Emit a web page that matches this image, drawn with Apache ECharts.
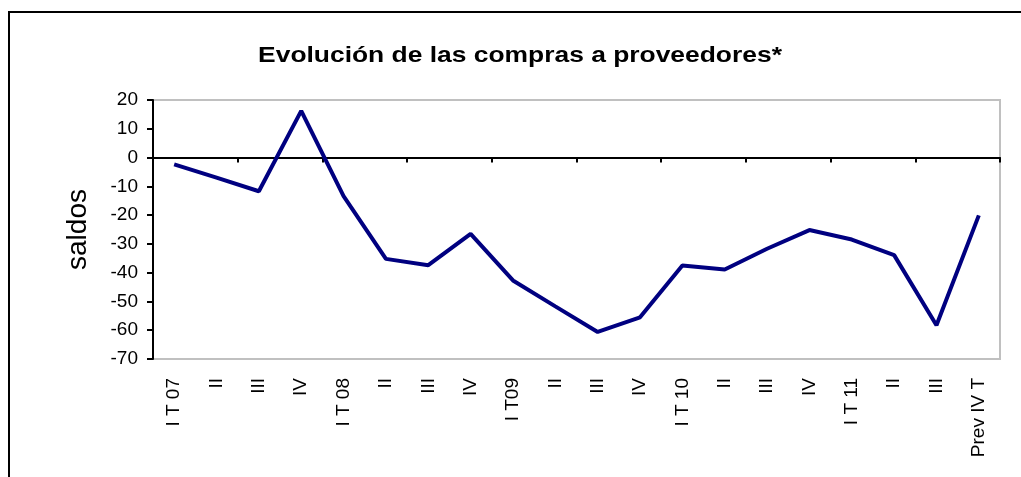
<!DOCTYPE html>
<html>
<head>
<meta charset="utf-8">
<script src="https://cdn.jsdelivr.net/npm/echarts@6/dist/echarts.min.js"></script>
<style>html,body{margin:0;padding:0;background:#fff;}#c{width:1021px;height:477px;}</style>
</head>
<body>
<div id="c"></div>
<script>
var categories = ["I T 07","II","III","IV","I T 08","II","III","IV","I T09","II","III","IV","I T 10","II","III","IV","I T 11","II","III","Prev IV T"];
var saldos = [-2.4,-7,-11.7,16.2,-13.4,-35.2,-37.4,-26.5,-42.7,-51.7,-60.6,-55.5,-37.5,-38.9,-31.7,-25.2,-28.5,-33.9,-58.3,-20.1];
var yTicks = {min:-70, max:20, interval:10};
var titleText = "Evolución de las compras a proveedores*";
var yName = "saldos";

var chart = echarts.init(document.getElementById('c'), null, {renderer:'canvas'});
var font = 'Arial, "Liberation Sans", sans-serif';
chart.setOption({
  animation:false,
  backgroundColor:'#fff',
  graphic:[
    {type:'rect',shape:{x:9,y:12,width:1100,height:600},
      style:{fill:'none',stroke:'#000',lineWidth:2},z:-1},
    {type:'text',x:520,y:56,scaleX:1.2,z:10,
      style:{text:titleText,fontFamily:font,fontSize:22,fontWeight:'bold',fill:'#000',
        textAlign:'center',textVerticalAlign:'middle'}}
  ],
  grid:{left:153,right:21,top:100,bottom:118,show:true,borderColor:'#c0c0c0',borderWidth:2,backgroundColor:'#fff'},
  xAxis:[{
    type:'category',data:categories,boundaryGap:true,
    axisLine:{onZero:true,lineStyle:{color:'#000',width:2}},
    axisTick:{show:true,length:5,lineStyle:{color:'#000',width:2}},
    axisLabel:{show:false},splitLine:{show:false}
  },{
    type:'category',data:categories,boundaryGap:true,position:'bottom',
    axisLine:{show:false},axisTick:{show:false},splitLine:{show:false},
    axisLabel:{show:true,rotate:90,interval:0,margin:19,fontFamily:font,fontSize:19,color:'#000'}
  }],
  yAxis:{type:'value',min:yTicks.min,max:yTicks.max,interval:yTicks.interval,
    name:yName,nameLocation:'middle',nameGap:61,nameRotate:90,
    nameTextStyle:{fontFamily:font,fontSize:28,color:'#000'},
    axisLine:{show:true,lineStyle:{color:'#000',width:2}},
    axisTick:{show:true,length:6,lineStyle:{color:'#000',width:2}},
    axisLabel:{fontFamily:font,fontSize:19,color:'#000',margin:15},
    splitLine:{show:false}},
  series:[{type:'line',xAxisIndex:0,data:saldos,symbol:'none',
    lineStyle:{color:'#000080',width:4},itemStyle:{color:'#000080'}}]
});
</script>
</body>
</html>
